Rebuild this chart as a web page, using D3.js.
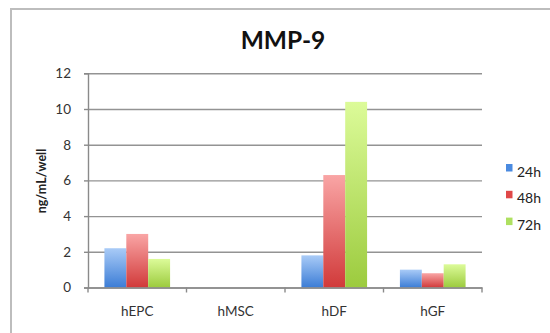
<!DOCTYPE html>
<html><head><meta charset="utf-8">
<script src="https://cdn.jsdelivr.net/npm/d3@7"></script>
<style>body{margin:0;background:#fff}svg{display:block}text{font-family:Lato,"Open Sans",sans-serif}</style>
</head><body><svg id="c" width="550" height="333"></svg>
<script>
const categories = ["hEPC","hMSC","hDF","hGF"];
const seriesNames = ["24h","48h","72h"];
const v24 = [2.2, 0, 1.8, 1.0];
const v48 = [3.0, 0, 6.3, 0.8];
const v72 = [1.6, 0, 10.4, 1.3];
const yTicks = [0,2,4,6,8,10,12];
const title = "MMP-9";
const yTitle = "ng/mL/well";

const seriesVals = [v24, v48, v72];
const colors = [
  {top:"#a9cbf7", bot:"#3c7dd6", leg:"#4a8ae0"},
  {top:"#f9a5a5", bot:"#d13a3a", leg:"#e04848"},
  {top:"#dcfb99", bot:"#9ccb3e", leg:"#aee060"}
];
const svg = d3.select("#c");
const defs = svg.append("defs");
colors.forEach((c,i)=>{
  const g = defs.append("linearGradient").attr("id","g"+i).attr("x1",0).attr("y1",0).attr("x2",0).attr("y2",1);
  g.append("stop").attr("offset","0%").attr("stop-color",c.top);
  g.append("stop").attr("offset","100%").attr("stop-color",c.bot);
});
// frame
svg.append("rect").attr("x",11).attr("y",9).attr("width",560).attr("height",340)
  .attr("fill","none").attr("stroke","#bdbdbd").attr("stroke-width",2);

const L=88,R=482,T=73.3,B=287.5;
const x = d3.scaleBand().domain(categories).range([L,R]).paddingInner(0).paddingOuter(0);
const y = d3.scaleLinear().domain([0,12]).range([B,T]);
const inner = d3.scaleBand().domain(seriesNames).range([0,x.bandwidth()]).paddingOuter(0.75).paddingInner(0);

// gridlines
const gy = svg.append("g").attr("transform",`translate(${L},0)`)
  .call(d3.axisLeft(y).tickValues(yTicks).tickSize(-(R-L)).tickFormat(""));
gy.selectAll(".tick line").attr("stroke","#939393").attr("stroke-width",1.4);
gy.select(".domain").remove();

// bars
seriesNames.forEach((s,si)=>{
  svg.append("g").selectAll("rect").data(categories.map((c,ci)=>({c,v:seriesVals[si][ci]})))
    .join("rect")
    .attr("x",d=>x(d.c)+inner(s))
    .attr("width",inner.bandwidth())
    .attr("y",d=>y(d.v))
    .attr("height",d=>B-y(d.v))
    .attr("fill",`url(#g${si})`);
});

// y axis
const ya = svg.append("g").attr("transform",`translate(${L},0)`)
  .call(d3.axisLeft(y).tickValues(yTicks).tickSize(4).tickPadding(13));
ya.select(".domain").attr("stroke","#8a8a8a").attr("stroke-width",1.4);
ya.selectAll(".tick line").attr("stroke","#8a8a8a").attr("stroke-width",1.4);
ya.selectAll("text").attr("font-size",13.5).attr("fill","#333").attr("font-family","Lato");

// x axis
const xa = svg.append("g").attr("transform",`translate(0,${B})`)
  .call(d3.axisBottom(x).tickSize(0).tickPadding(19));
xa.select(".domain").attr("stroke","#8a8a8a").attr("stroke-width",1.4);
xa.selectAll("text").attr("font-size",13.5).attr("fill","#333").attr("font-family","Lato");
const edges = categories.map(c=>x(c)).concat([R]);
svg.append("g").selectAll("line").data(edges).join("line")
  .attr("x1",d=>d).attr("x2",d=>d).attr("y1",B).attr("y2",B+5)
  .attr("stroke","#8a8a8a").attr("stroke-width",1.4);

// title
svg.append("text").attr("x",283).attr("y",49).attr("text-anchor","middle")
  .attr("font-size",24.5).attr("font-weight","bold").attr("fill","#111").text(title);
// y title
svg.append("text").attr("transform","translate(46,181) rotate(-90)").attr("text-anchor","middle")
  .attr("font-size",12.5).attr("font-weight","bold").attr("fill","#222").text(yTitle);

// legend
const lg = svg.append("g");
seriesNames.forEach((s,i)=>{
  const base = 176.5 + i*26.8;
  lg.append("rect").attr("x",506).attr("y",base-12.5).attr("width",6.5).attr("height",7.5).attr("fill",colors[i].leg);
  lg.append("text").attr("x",517).attr("y",base).attr("font-size",14).attr("fill","#222").text(s);
});
</script></body></html>
